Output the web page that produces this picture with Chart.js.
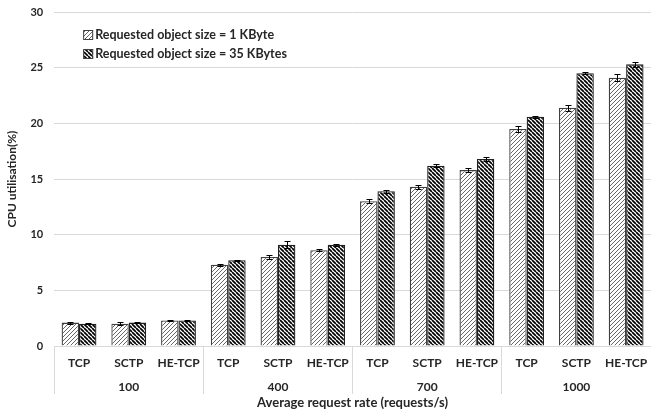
<!DOCTYPE html>
<html>
<head>
<meta charset="utf-8">
<script src="https://cdn.jsdelivr.net/npm/chart.js@4.4.0/dist/chart.umd.min.js"></script>
<style>html,body{margin:0;padding:0;background:#fff;overflow:hidden}</style>
</head>
<body>
<canvas id="c" width="651" height="414"></canvas>
<script>
// request rate groups and the protocols inside each group
const rates     = ['100', '400', '700', '1000'];
const protocols = ['TCP', 'SCTP', 'HE-TCP'];
// CPU utilisation (%) per protocol
const cpu1k  = [2.1, 2.0, 2.3,  7.3, 8.0, 8.6,  13.0, 14.3, 15.8,  19.5, 21.4, 24.1];
const cpu35k = [2.0, 2.1, 2.3,  7.7, 9.1, 9.1,  13.9, 16.2, 16.8,  20.6, 24.5, 25.3];
const err1k  = [0.1, 0.15, 0.05, 0.1, 0.15, 0.1, 0.2, 0.2, 0.2, 0.25, 0.25, 0.3];
const err35k = [0.05, 0.05, 0.05, 0.05, 0.3, 0.1, 0.15, 0.15, 0.15, 0.1, 0.1, 0.2];
const yTicks = [0, 5, 10, 15, 20, 25, 30];

const $ = id => document.getElementById(id);
const FONT = 'Lato';
const ink = '#262626', rule = '#d9d9d9';
const labels = rates.flatMap(() => protocols);
const bold = size => ({ family: FONT, weight: 'bold', size });

// diagonal hatch tile; dir '/' or '\'
function hatch(dir, lw, color) {
  const s = 4, c = document.createElement('canvas');
  c.width = c.height = s;
  const g = c.getContext('2d');
  g.fillStyle = '#fff'; g.fillRect(0, 0, s, s);
  g.strokeStyle = color; g.lineWidth = lw;
  g.beginPath();
  for (const k of [-1, 0, 1]) {
    if (dir === '/') { g.moveTo(k*s, s); g.lineTo(k*s + s, 0); }
    else { g.moveTo(k*s, 0); g.lineTo(k*s + s, s); }
  }
  g.stroke();
  return g.createPattern(c, 'repeat');
}

const errorBars = {
  id: 'errorBars',
  afterDatasetsDraw(chart) {
    const { ctx, scales: { y } } = chart;
    ctx.save();
    ctx.strokeStyle = '#000'; ctx.lineWidth = 1;
    chart.data.datasets.forEach((ds, i) => {
      chart.getDatasetMeta(i).data.forEach((bar, j) => {
        const v = ds.data[j], e = ds.errors[j];
        const t = Math.round(y.getPixelForValue(v + e)) + .5;
        const b = Math.round(y.getPixelForValue(v - e)) + .5;
        const x = Math.round(bar.x) + .5;
        ctx.beginPath();
        ctx.moveTo(x, t); ctx.lineTo(x, b);
        ctx.moveTo(x - 3, t); ctx.lineTo(x + 3, t);
        ctx.moveTo(x - 3, b); ctx.lineTo(x + 3, b);
        ctx.stroke();
      });
    });
    ctx.restore();
  }
};

// legend sits inside the plot, top left
const boxLegend = {
  id: 'boxLegend',
  afterDraw(chart) {
    const { ctx, chartArea } = chart;
    const x0 = chartArea.left + 29, y0 = chartArea.top + 23;
    ctx.save();
    ctx.font = `bold 12.5px ${FONT}`;
    ctx.textBaseline = 'middle';
    chart.data.datasets.forEach((ds, i) => {
      const yy = y0 + i * 19;
      ctx.fillStyle = ds.backgroundColor;
      ctx.fillRect(x0, yy - 5, 10, 10);
      ctx.strokeStyle = '#404040'; ctx.lineWidth = 1;
      ctx.strokeRect(x0 + .5, yy - 4.5, 9, 9);
      ctx.fillStyle = ink;
      ctx.fillText(ds.label, x0 + 12, yy);
    });
    ctx.restore();
  }
};

new Chart($('c'), {
  type: 'bar',
  data: {
    labels,
    datasets: [
      { label: 'Requested object size = 1 KByte', data: cpu1k, errors: err1k,
        backgroundColor: hatch('/', 0.9, '#555'), borderColor: '#404040', borderWidth: 1.3 },
      { label: 'Requested object size = 35 KBytes', data: cpu35k, errors: err35k,
        backgroundColor: hatch('\\', 1.7, '#000'), borderColor: '#202020', borderWidth: 1.3 }
    ]
  },
  options: {
    responsive: false,
    animation: false,
    devicePixelRatio: 1,
    datasets: { bar: { categoryPercentage: 0.70, barPercentage: 1 } },
    layout: { padding: { top: 0, right: -6, left: 0, bottom: 0 } },
    plugins: { legend: { display: false }, tooltip: { enabled: false } },
    scales: {
      x: {
        weight: 0,
        grid: {
          offset: true, drawOnChartArea: false, tickLength: 48,
          color: c => (c.index !== undefined && c.index % 3 === 0) ? rule : 'transparent'
        },
        border: { color: rule },
        ticks: { color: ink, font: bold(12), padding: -38, autoSkip: false, maxRotation: 0 },
        afterFit: s => { s.height = 24; }
      },
      x2: {
        type: 'category', position: 'bottom', weight: 1, offset: true,
        labels: rates,
        grid: { display: false },
        border: { display: false },
        ticks: { color: ink, font: bold(12), padding: 2 },
        title: { display: true, text: 'Average request rate (requests/s)', color: ink,
                 font: bold(13), padding: { top: 0, bottom: 3 } },
        afterFit: s => { s.height = 44; }
      },
      y: {
        min: 0, max: 30,
        afterBuildTicks: s => { s.ticks = yTicks.map(v => ({ value: v })); },
        grid: { color: rule, drawTicks: false },
        border: { display: false },
        ticks: { color: ink, font: bold(11), padding: 11 },
        title: { display: true, text: 'CPU utilisation(%)', color: ink,
                 font: bold(12), padding: { top: 5, bottom: 0 } },
        afterFit: s => { s.paddingTop = 12; }
      }
    }
  },
  plugins: [errorBars, boxLegend]
});
</script>
</body>
</html>
